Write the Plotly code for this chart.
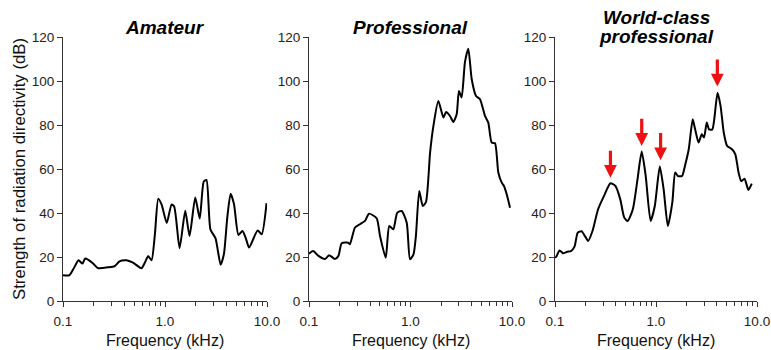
import math
import plotly.graph_objects as go

# ---------------- data ----------------
amateur_freq = [0.100, 0.115, 0.128, 0.142, 0.155, 0.165, 0.195, 0.219, 0.245, 0.275,
                0.320, 0.358, 0.418, 0.486, 0.587, 0.634, 0.684, 0.738, 0.796, 0.859,
                0.927, 1.04, 1.16, 1.23, 1.39, 1.58, 1.74, 1.98, 2.19, 2.40,
                2.55, 2.79, 3.13, 3.51, 3.78, 4.08, 4.40, 4.75, 5.25, 5.75,
                6.20, 6.68, 8.09, 8.87, 9.90]
amateur_db = [11.7, 11.7, 15.0, 18.5, 17.0, 19.3, 17.3, 15.0, 15.0, 15.3,
              15.8, 18.0, 18.5, 17.4, 14.9, 17.4, 20.4, 18.5, 30.3, 46.5,
              43.8, 35.5, 43.8, 43.0, 24.0, 41.0, 29.5, 47.0, 37.5, 54.3,
              55.0, 32.5, 28.5, 16.5, 21.3, 38.0, 48.8, 44.0, 30.0, 31.8,
              28.5, 24.3, 32.1, 30.3, 44.5]

pro_freq = [0.100, 0.110, 0.124, 0.144, 0.158, 0.180, 0.195, 0.210, 0.244, 0.253,
            0.284, 0.318, 0.356, 0.390, 0.464, 0.501, 0.570, 0.618, 0.677, 0.741,
            0.819, 0.918, 0.989, 1.07, 1.13, 1.22, 1.32, 1.42, 1.56, 1.68,
            1.88, 2.11, 2.24, 2.45, 2.64, 2.85, 3.00, 3.19, 3.44, 3.71,
            4.01, 4.42, 4.84, 5.42, 5.84, 6.31, 6.80, 7.33, 7.92, 8.34,
            8.87, 9.56]
pro_db = [21.5, 22.7, 20.5, 19.1, 20.8, 19.1, 20.5, 26.2, 26.5, 25.8,
          33.4, 34.9, 36.4, 39.7, 37.6, 29.5, 19.7, 34.1, 32.6, 40.2,
          40.9, 35.6, 19.0, 21.2, 29.5, 50.0, 43.2, 45.0, 67.5, 79.5,
          90.9, 83.4, 85.9, 84.1, 81.4, 84.9, 95.5, 92.5, 108.6, 114.7,
          100.8, 93.2, 91.7, 84.1, 81.1, 72.0, 71.7, 58.4, 53.8, 52.3,
          48.5, 42.4]

world_freq = [0.100, 0.103, 0.111, 0.120, 0.132, 0.144, 0.156, 0.168, 0.183, 0.198,
              0.213, 0.235, 0.267, 0.305, 0.354, 0.396, 0.443, 0.485, 0.524, 0.590,
              0.656, 0.722, 0.791, 0.884, 0.973, 1.09, 1.19, 1.31, 1.45, 1.55,
              1.65, 1.81, 1.95, 2.11, 2.31, 2.43, 2.64, 2.84, 2.99, 3.18,
              3.35, 3.61, 3.78, 4.07, 4.36, 4.69, 5.06, 5.66, 6.10, 6.57,
              6.98, 7.52, 8.22, 8.87]
world_db = [19.7, 20.2, 23.0, 21.7, 22.4, 22.7, 24.7, 31.1, 31.7, 29.5,
            27.3, 31.8, 41.7, 47.7, 53.5, 52.3, 46.2, 37.9, 36.4, 41.7,
            55.3, 67.9, 56.8, 36.4, 43.2, 61.1, 50.8, 34.1, 44.7, 58.4,
            56.8, 56.8, 62.1, 69.0, 82.6, 78.4, 72.0, 75.8, 74.3, 81.1,
            78.0, 78.0, 82.9, 94.7, 88.6, 76.5, 70.5, 69.0, 66.7, 58.4,
            54.5, 55.6, 50.5, 53.4]

# red arrows: frequency, tip value, tail value
arrow_freq = [0.354, 0.722, 1.11, 4.05]
arrow_tip = [56.0, 70.5, 64.0, 97.5]
arrow_tail = [69.0, 83.5, 77.0, 110.5]

panel_titles = [["Amateur"], ["Professional"], ["World-class", "professional"]]
x_tick_vals = [0.1, 1.0, 10.0]
x_tick_text = ["0.1", "1.0", "10.0"]
y_tick_vals = [0, 20, 40, 60, 80, 100, 120]
minor_vals = [m * d for d in (0.1, 1.0) for m in range(2, 10)]

# ---------------- figure ----------------
W, H = 771, 350


def px(p):
    return p / W


def py(p):
    return (H - p) / H


domains = [(63, 267), (309, 512), (555, 757)]
ydom = [py(301), py(37)]

tick_font = dict(family="Liberation Sans Narrow, Arial Narrow, Liberation Sans, Arial",
                 size=13.5, color="#222")
label_font = dict(family="Liberation Sans, Arial", size=16, color="#111")
ylabel_font = dict(family="Liberation Sans, Arial", size=16.8, color="#111")
title_font = dict(family="Liberation Sans, Arial", size=19, color="black")

fig = go.Figure()
series = [(amateur_freq, amateur_db), (pro_freq, pro_db), (world_freq, world_db)]
for i, (fx, fy) in enumerate(series):
    sfx = "" if i == 0 else str(i + 1)
    fig.add_trace(go.Scatter(x=fx, y=fy, mode="lines",
                             line=dict(color="black", width=2, shape="spline", smoothing=0.6),
                             xaxis="x" + sfx, yaxis="y" + sfx, showlegend=False,
                             hoverinfo="skip"))
    d0, d1 = domains[i]
    fig.layout["xaxis" + sfx] = dict(
        type="log", range=[-1, 1], domain=[px(d0), px(d1)], anchor="y" + sfx,
        automargin=False, ticklabeloverflow="allow", ticklabelstandoff=3,
        tickvals=x_tick_vals, ticktext=x_tick_text, ticks="outside", ticklen=5,
        tickcolor="#333", showline=True, linecolor="#333", linewidth=1,
        showgrid=False, zeroline=False, tickfont=tick_font,
        minor=dict(tickvals=minor_vals, ticks="outside", ticklen=4, tickcolor="#333",
                   showgrid=False))
    fig.layout["yaxis" + sfx] = dict(
        range=[0, 120], domain=ydom, anchor="x" + sfx, tickvals=y_tick_vals,
        automargin=False, ticklabeloverflow="allow",
        ticks="outside", ticklen=5, tickcolor="#333", showline=True,
        linecolor="#333", linewidth=1, showgrid=False, zeroline=False,
        tickfont=tick_font)
    cx = px((d0 + d1) / 2)
    lines = panel_titles[i]
    ys = [28] if len(lines) == 1 else [17.5, 36]
    for txt, yy in zip(lines, ys):
        fig.add_annotation(text="<b><i>" + txt + "</i></b>", x=cx, xref="paper",
                           xanchor="center", y=py(yy), yref="paper", showarrow=False,
                           font=title_font, yanchor="middle")
    fig.add_annotation(text="Frequency (kHz)", x=cx, xref="paper", xanchor="center",
                       y=py(340), yref="paper", showarrow=False, font=label_font,
                       yanchor="middle")

for f, tip, tail in zip(arrow_freq, arrow_tip, arrow_tail):
    fig.add_annotation(x=math.log10(f), y=tip, xref="x3", yref="y3",
                       ax=math.log10(f), ay=tail, axref="x3", ayref="y3",
                       text="", showarrow=True, arrowhead=2, arrowsize=0.8,
                       arrowwidth=3.2, arrowcolor="#ee1111", standoff=0)

fig.add_annotation(text="Strength of radiation directivity (dB)", x=px(19), xref="paper",
                   y=py(169), yref="paper", textangle=-90, showarrow=False,
                   font=ylabel_font, xanchor="center", yanchor="middle")

fig.update_layout(width=W, height=H, margin=dict(l=0, r=0, t=0, b=0, autoexpand=False),
                  paper_bgcolor="white", plot_bgcolor="white", dragmode=False)

fig.write_html("out.html",
               config={"displayModeBar": False, "staticPlot": True},
               post_script="document.body.style.margin='0px';"
                           "document.body.style.overflow='hidden';")
